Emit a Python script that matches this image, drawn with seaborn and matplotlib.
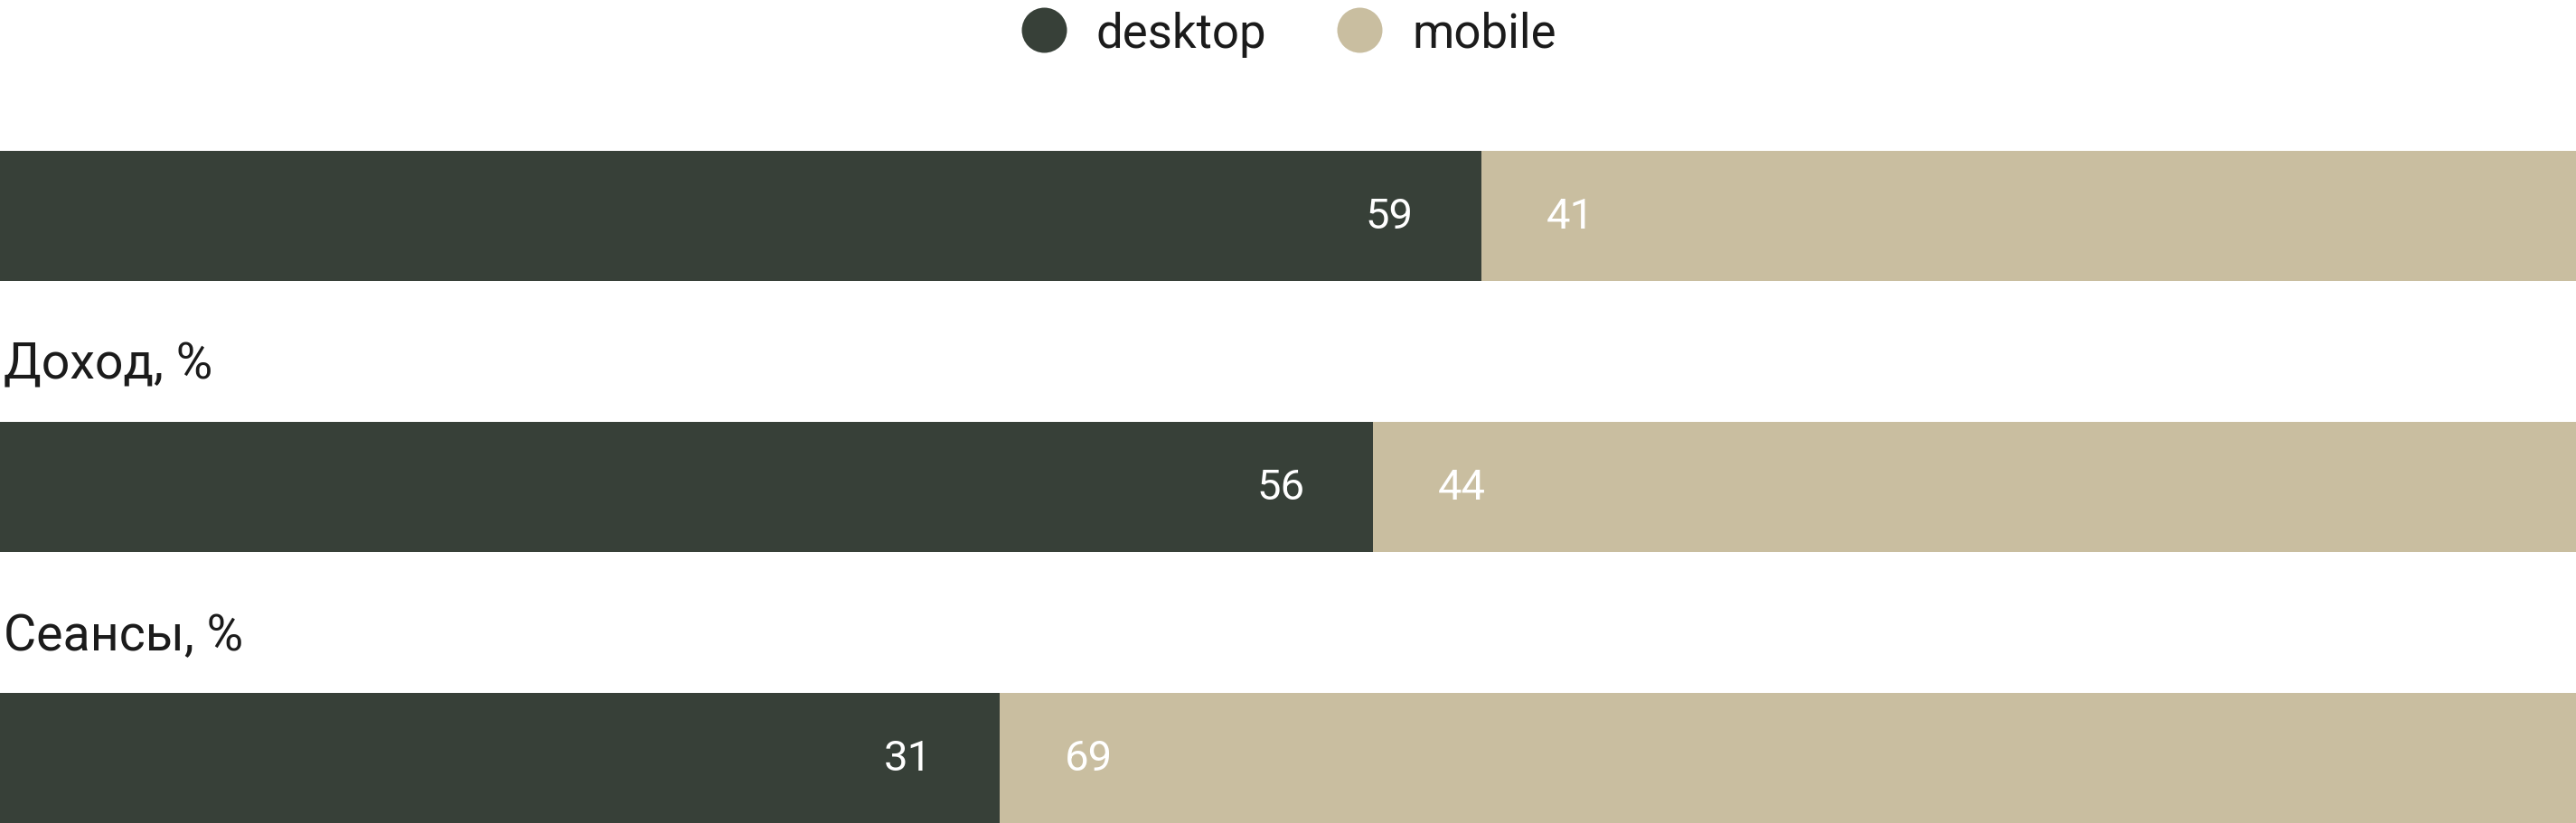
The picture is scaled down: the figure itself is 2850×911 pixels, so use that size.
import numpy as np
import pandas as pd
import seaborn as sns
import matplotlib.pyplot as plt
from matplotlib.lines import Line2D

# bar lengths as drawn in the reference (share of the row), and the printed labels
categories = ["", "Доход, %", "Сеансы, %"]
desktop_share = [57.5, 53.3, 38.8]
mobile_share = [42.5, 46.7, 61.2]
desktop_labels = ["59", "56", "31"]
mobile_labels = ["41", "44", "69"]
series_names = ["desktop", "mobile"]

DESKTOP = "#374038"
MOBILE = "#c9bea0"
TEXT = "#1b1b1b"

sns.set_style("white")
plt.rcParams["font.family"] = ["Roboto", "DejaVu Sans"]


def main():
    df = pd.DataFrame({"category": categories,
                       "desktop": desktop_share,
                       "mobile": mobile_share})
    df["total"] = df["desktop"] + df["mobile"]

    fig = plt.figure(figsize=(28.5, 9.12), dpi=100)
    ax = fig.add_axes([0, 0, 1, 1])

    # stacked: full row in mobile colour, desktop drawn on top
    sns.barplot(data=df, x="total", y="category", orient="h", color=MOBILE,
                saturation=1, width=0.48, errorbar=None, linewidth=0, ax=ax)
    sns.barplot(data=df, x="desktop", y="category", orient="h", color=DESKTOP,
                saturation=1, width=0.48, errorbar=None, linewidth=0, ax=ax)

    ax.set_xlim(0, 100)
    ax.set_ylim(2.24, -0.8)
    ax.axis("off")

    for i, row in df.iterrows():
        ax.annotate(desktop_labels[i], (row["desktop"], i), xytext=(-54, 0),
                    textcoords="offset points", ha="right", va="center",
                    color="white", fontsize=34)
        ax.annotate(mobile_labels[i], (row["desktop"], i), xytext=(52, 0),
                    textcoords="offset points", ha="left", va="center",
                    color="white", fontsize=34)
        if row["category"]:
            ax.text(0.15, i - 0.4, row["category"], ha="left", va="baseline",
                    color=TEXT, fontsize=40)

    handles = [Line2D([], [], marker="o", linestyle="", markersize=36,
                      markerfacecolor=c, markeredgewidth=0)
               for c in (DESKTOP, MOBILE)]
    fig.legend(handles, series_names, loc="center",
               bbox_to_anchor=(0.5, 1 - 38 / 912), ncol=2, frameon=False,
               fontsize=38, handlelength=1, handletextpad=0.6,
               columnspacing=1.45, labelcolor=TEXT)

    fig.savefig("out.png", dpi=100)


if __name__ == "__main__":
    main()
